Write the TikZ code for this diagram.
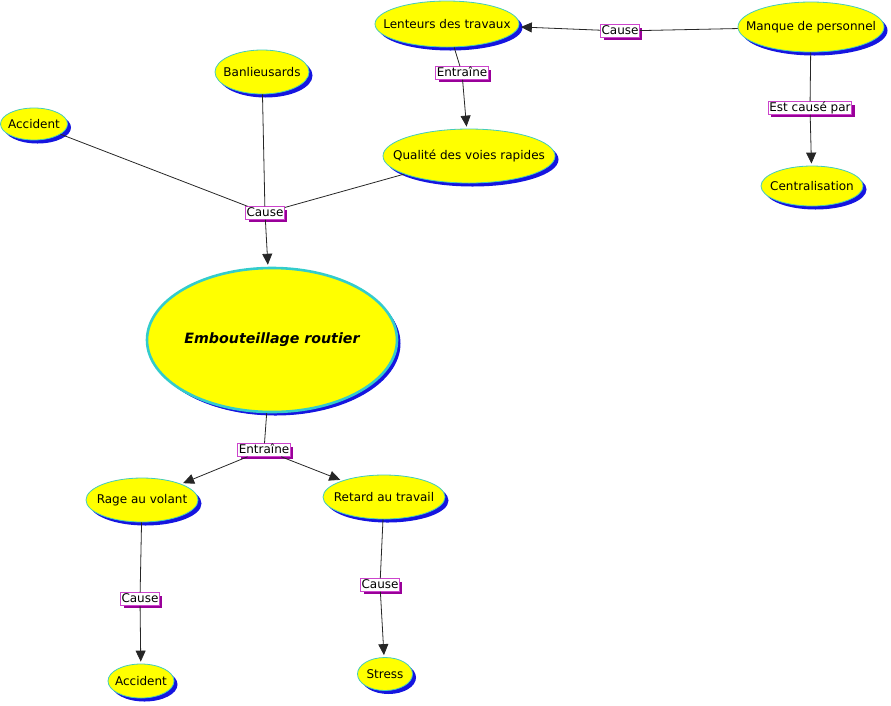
\documentclass[tikz,border=0pt]{standalone}
\usepackage{fontspec}
\setmainfont{DejaVu Sans}
\usetikzlibrary{shapes.geometric,arrows.meta,shadows}
\definecolor{nodefill}{HTML}{FFFF00}
\definecolor{nodeline}{HTML}{44CCBB}
\definecolor{bigline}{HTML}{33CCCC}
\definecolor{nodeshadow}{HTML}{1515E0}
\definecolor{lblline}{HTML}{CC44CC}
\definecolor{lblshadow}{HTML}{990099}
\begin{document}
\begin{tikzpicture}[x=1pt,y=-1pt,
  concept/.style={ellipse, fill=nodefill, draw=nodeline, line width=0.8pt, inner sep=0pt,
    font=\fontsize{12}{14}\selectfont,
    drop shadow={shadow xshift=3.5pt, shadow yshift=-3.5pt, fill=nodeshadow, opacity=1}},
  bigconcept/.style={concept, draw=bigline, line width=2.6pt,
    font=\fontsize{14.2}{17}\selectfont\bfseries\itshape,
    drop shadow={shadow xshift=3pt, shadow yshift=-3pt, fill=nodeshadow, opacity=1}},
  lbl/.style={rectangle, fill=white, draw=lblline, line width=0.8pt, inner xsep=1pt, inner ysep=0.6pt,
    text height=9pt, text depth=2.5pt, font=\fontsize{12}{14}\selectfont,
    drop shadow={shadow xshift=3pt, shadow yshift=-3pt, fill=lblshadow, opacity=1}},
  link/.style={draw=black!85, line width=0.8pt},
  arr/.style={link, -{Triangle[length=11pt,width=10pt]}, shorten >=2pt}
]
\useasboundingbox (0,0) rectangle (891,705);

% concepts
\node[concept, minimum width=144pt, minimum height=46pt] (lent) at (447,24) {\makebox[0pt]{Lenteurs des travaux}};
\node[concept, minimum width=146pt, minimum height=50pt] (manque) at (811,27) {\makebox[0pt]{Manque de personnel}};
\node[concept, minimum width=94pt, minimum height=44pt] (banl) at (262,72) {\makebox[0pt]{Banlieusards}};
\node[concept, minimum width=67pt, minimum height=32pt] (acc1) at (34,124) {\makebox[0pt]{Accident}};
\node[concept, minimum width=172pt, minimum height=54pt] (qual) at (469,156) {\makebox[0pt]{Qualité des voies rapides}};
\node[concept, minimum width=102pt, minimum height=40pt] (central) at (812,186) {\makebox[0pt]{Centralisation}};
\node[bigconcept, minimum width=250pt, minimum height=144pt] (emb) at (272,340) {\makebox[0pt]{Embouteillage routier}};
\node[concept, minimum width=112pt, minimum height=44pt] (rage) at (142,500) {\makebox[0pt]{Rage au volant}};
\node[concept, minimum width=122pt, minimum height=44pt] (retard) at (384,497) {\makebox[0pt]{Retard au travail}};
\node[concept, minimum width=66pt, minimum height=34pt] (acc2) at (141,681) {\makebox[0pt]{Accident}};
\node[concept, minimum width=55pt, minimum height=33pt] (stress) at (385,674) {\makebox[0pt]{Stress}};

% linking phrases
\node[lbl] (c1) at (620,31) {Cause};
\node[lbl] (e1) at (462,73) {Entraîne};
\node[lbl] (ecp) at (810,108) {Est causé par};
\node[lbl] (c2) at (265,213) {Cause};
\node[lbl] (e2) at (264,450) {Entraîne};
\node[lbl] (c3) at (140,599) {Cause};
\node[lbl] (c4) at (380,585) {Cause};

% connectors
\begin{scope}[on background layer/.try]
\end{scope}
\draw[link] (manque) -- (c1);
\draw[arr] (c1) -- (lent);
\draw[link] (lent) -- (e1);
\draw[arr] (e1) -- (qual);
\draw[link] (manque) -- (ecp);
\draw[arr] (ecp) -- (central);
\draw[link] (acc1) -- (c2);
\draw[link] (banl) -- (c2);
\draw[link] (qual) -- (c2);
\draw[arr] (c2) -- (emb);
\draw[link] (emb) -- (e2);
\draw[arr] (e2) -- (rage);
\draw[arr] (e2) -- (retard);
\draw[link] (rage) -- (c3);
\draw[arr] (c3) -- (acc2);
\draw[link] (retard) -- (c4);
\draw[arr] (c4) -- (stress);
\end{tikzpicture}
\end{document}
